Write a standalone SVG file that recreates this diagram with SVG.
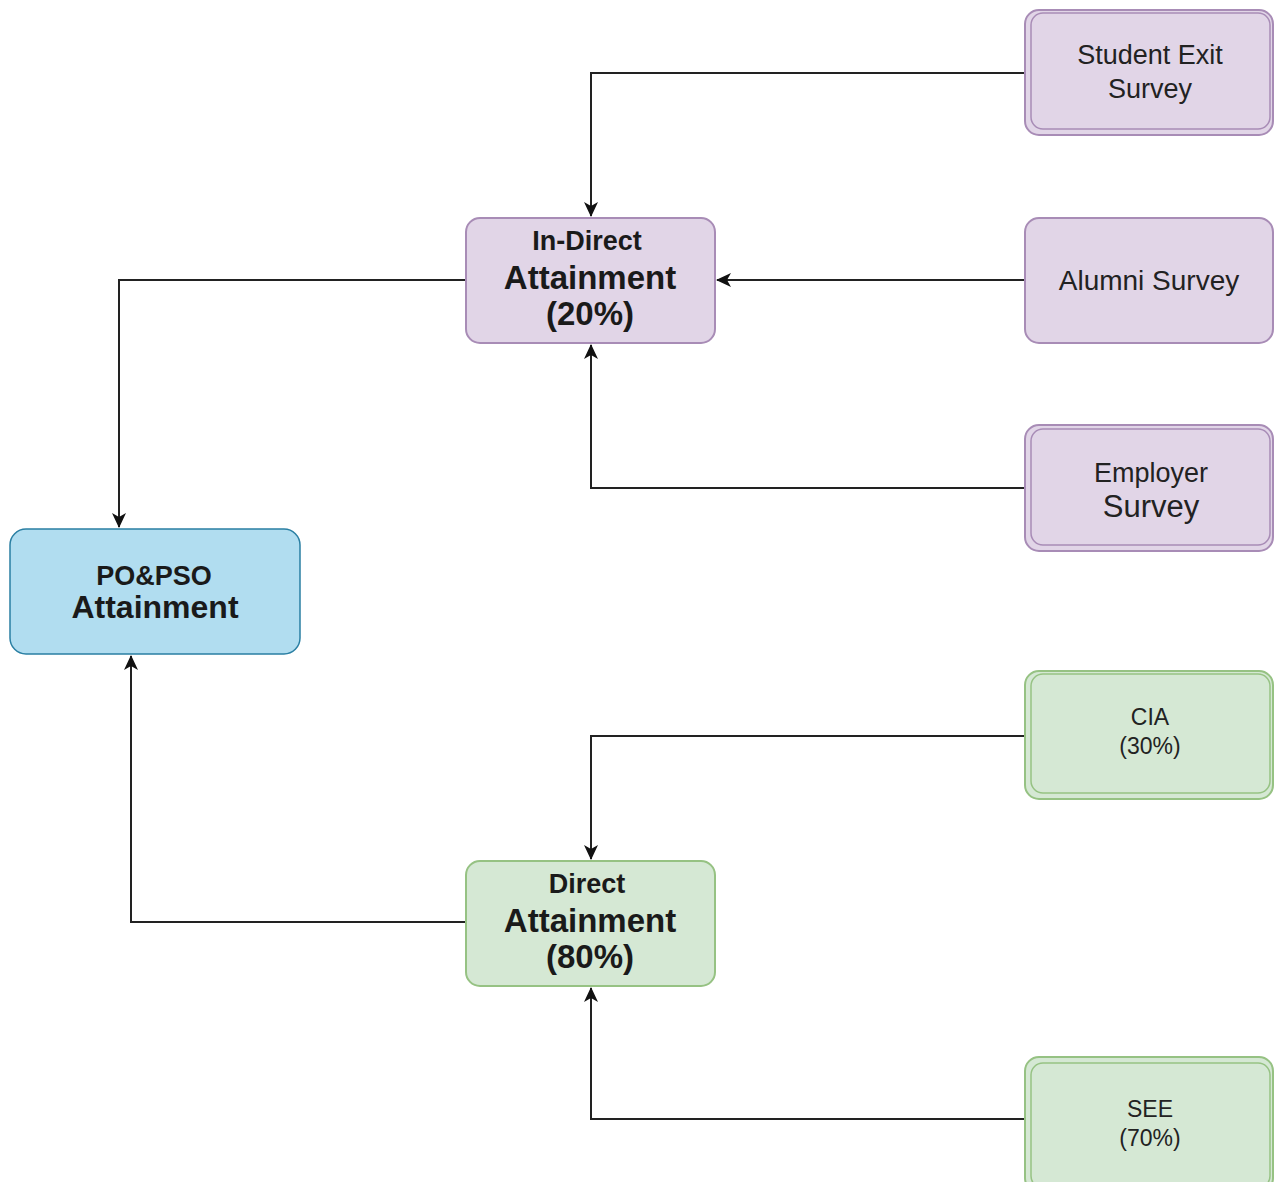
<svg xmlns="http://www.w3.org/2000/svg" width="1275" height="1182" viewBox="0 0 1275 1182">
<defs>
<marker id="arr" viewBox="0 0 15 14" markerWidth="15" markerHeight="14" refX="14" refY="7" orient="auto" markerUnits="userSpaceOnUse">
<path d="M0,0 L15,7 L0,14 L4,7 Z" fill="#111"/>
</marker>
<style>
.pur{fill:#e1d5e7;stroke:#a88cb6;stroke-width:2}
.purin{fill:none;stroke:#a88cb6;stroke-width:1.5}
.grn{fill:#d5e8d4;stroke:#96c283;stroke-width:2}
.grnin{fill:none;stroke:#96c283;stroke-width:1.5}
.blu{fill:#b1ddf0;stroke:#2a7fa3;stroke-width:1.5}
.t{font-family:"Liberation Sans",Arial,sans-serif;fill:#222;text-anchor:middle}
.b{font-weight:bold;fill:#1a1a1a}
.conn{fill:none;stroke:#222;stroke-width:2}
</style>
</defs>
<rect width="1275" height="1182" fill="#ffffff"/>

<g id="connectors">
<path class="conn" d="M1025,73 H591 V216" marker-end="url(#arr)"/>
<path class="conn" d="M1025,280 H717" marker-end="url(#arr)"/>
<path class="conn" d="M1025,488 H591 V345" marker-end="url(#arr)"/>
<path class="conn" d="M466,280 H119 V527" marker-end="url(#arr)"/>
<path class="conn" d="M466,922 H131 V656" marker-end="url(#arr)"/>
<path class="conn" d="M1025,736 H591 V859" marker-end="url(#arr)"/>
<path class="conn" d="M1025,1119 H591 V988" marker-end="url(#arr)"/>
</g>

<g id="student-exit-survey">
<rect class="pur" x="1025" y="10" width="248" height="125" rx="14"/>
<rect class="purin" x="1031" y="13" width="239" height="116" rx="12"/>
<text class="t" x="1150" y="64" font-size="27">Student Exit</text>
<text class="t" x="1150" y="98" font-size="27">Survey</text>
</g>

<g id="alumni-survey">
<rect class="pur" x="1025" y="218" width="248" height="125" rx="14"/>
<text class="t" x="1149" y="290" font-size="28">Alumni Survey</text>
</g>

<g id="employer-survey">
<rect class="pur" x="1025" y="425" width="248" height="126" rx="14"/>
<rect class="purin" x="1031" y="429" width="239" height="116" rx="12"/>
<text class="t" x="1151" y="482" font-size="27">Employer</text>
<text class="t" x="1151" y="517" font-size="31">Survey</text>
</g>

<g id="indirect-attainment">
<rect class="pur" x="466" y="218" width="249" height="125" rx="14"/>
<text class="t b" x="587" y="250" font-size="27">In-Direct</text>
<text class="t b" x="590" y="289" font-size="33">Attainment</text>
<text class="t b" x="590" y="325" font-size="33">(20%)</text>
</g>

<g id="po-pso-attainment">
<rect class="blu" x="10" y="529" width="290" height="125" rx="16"/>
<text class="t b" x="154" y="585" font-size="27">PO&amp;PSO</text>
<text class="t b" x="155" y="618" font-size="32">Attainment</text>
</g>

<g id="direct-attainment">
<rect class="grn" x="466" y="861" width="249" height="125" rx="14"/>
<text class="t b" x="587" y="893" font-size="27">Direct</text>
<text class="t b" x="590" y="932" font-size="33">Attainment</text>
<text class="t b" x="590" y="968" font-size="33">(80%)</text>
</g>

<g id="cia">
<rect class="grn" x="1025" y="671" width="248" height="128" rx="14"/>
<rect class="grnin" x="1031" y="674" width="239" height="119" rx="12"/>
<text class="t" x="1150" y="725" font-size="23">CIA</text>
<text class="t" x="1150" y="754" font-size="23">(30%)</text>
</g>

<g id="see">
<rect class="grn" x="1025" y="1057" width="248" height="135" rx="14"/>
<rect class="grnin" x="1031" y="1063" width="239" height="125" rx="12"/>
<text class="t" x="1150" y="1117" font-size="23">SEE</text>
<text class="t" x="1150" y="1146" font-size="23">(70%)</text>
</g>
</svg>
